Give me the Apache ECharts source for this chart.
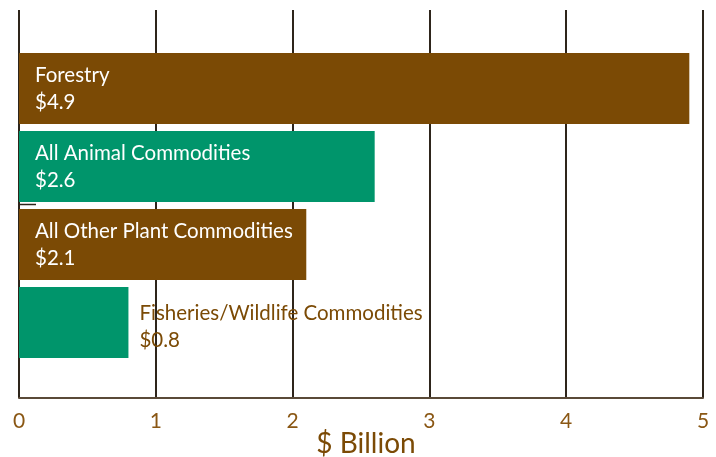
<!DOCTYPE html>
<html>
<head>
<meta charset="utf-8">
<script src="https://cdn.jsdelivr.net/npm/echarts@6/dist/echarts.min.js"></script>
<style>
  html, body { margin: 0; padding: 0; background: #fff; }
  #chart { width: 716px; height: 457px; }
</style>
</head>
<body>
<div id="chart"></div>
<script>
// data (top to bottom)
const categories = ['Forestry', 'All Animal Commodities', 'All Other Plant Commodities', 'Fisheries/Wildlife Commodities']
const values = [4.9, 2.6, 2.1, 0.8]
const xTicks = [0, 1, 2, 3, 4, 5]

const brown = '#7b4a05'
const green = '#00956b'
const barColors = [brown, green, brown, green]

const chart = echarts.init(document.getElementById('chart'))

const option = {
  animation: false,
  textStyle: { fontFamily: 'Lato, "Noto Sans", sans-serif' },
  grid: [
    // frame grid: gridlines + axis
    { left: 19, right: 13, top: 10, bottom: 59, outerBoundsMode: 'none', containLabel: false },
    // bars grid
    { left: 19, right: 13, top: 49.5, height: 312, outerBoundsMode: 'none', containLabel: false }
  ],
  xAxis: [
    {
      gridIndex: 0,
      type: 'value',
      min: xTicks[0],
      max: xTicks[xTicks.length - 1],
      interval: 1,
      name: '$ Billion',
      nameLocation: 'middle',
      nameGap: 32,
      nameMoveOverlap: false,
      nameTextStyle: { color: brown, fontSize: 28, padding: [0, 0, 0, 10] },
      axisLine: { show: true, lineStyle: { color: '#5a4a38', width: 2 } },
      axisTick: { show: false },
      axisLabel: { color: '#8a5714', fontSize: 21, margin: 13 },
      splitLine: { show: true, lineStyle: { color: '#2e251b', width: 2 } }
    },
    {
      gridIndex: 1,
      type: 'value',
      min: xTicks[0],
      max: xTicks[xTicks.length - 1],
      show: false
    }
  ],
  yAxis: [
    { gridIndex: 0, type: 'value', show: false },
    {
      gridIndex: 1,
      type: 'category',
      inverse: true,
      data: categories,
      show: false
    }
  ],
  series: [{
    type: 'bar',
    xAxisIndex: 1,
    yAxisIndex: 1,
    barCategoryGap: '9%',
    data: values.map((v, i) => {
      const outside = v < 1.5
      return {
        value: v,
        itemStyle: { color: barColors[i] },
        label: outside
          ? { position: 'right', distance: 11, color: brown, offset: [0, 4] }
          : { position: 'insideLeft', distance: 16, color: '#fff' }
      }
    }),
    label: {
      show: true,
      fontSize: 20.5,
      lineHeight: 27,
      align: 'left',
      formatter: p => p.name + '\n$' + p.value
    }
  }],
  graphic: [{
    type: 'line',
    shape: { x1: 19, y1: 204.5, x2: 36, y2: 204.5 },
    style: { stroke: '#2e251b', lineWidth: 1.5 }
  }]
}

chart.setOption(option)
</script>
</body>
</html>
